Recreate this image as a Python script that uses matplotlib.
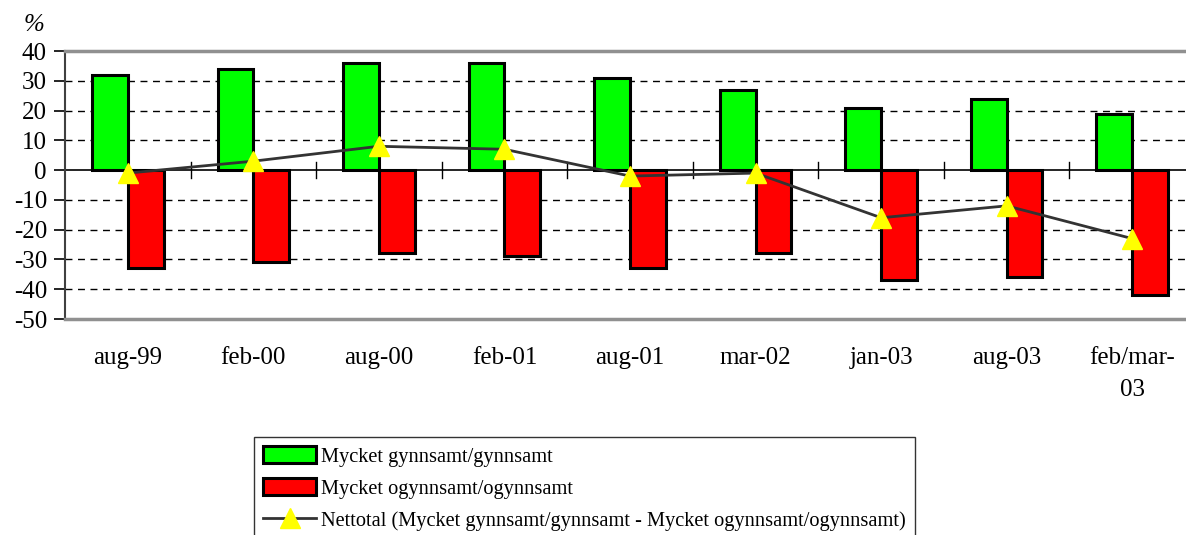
import numpy as np
import matplotlib.pyplot as plt

# Data
categories = ['aug-99', 'feb-00', 'aug-00', 'feb-01', 'aug-01', 'mar-02', 'jan-03', 'aug-03', 'feb/mar-\n03']
gynnsamt = [32, 34, 36, 36, 31, 27, 21, 24, 19]
ogynnsamt = [-33, -31, -28, -29, -33, -28, -37, -36, -42]
nettotal = [-1, 3, 8, 7, -2, -1, -16, -12, -23]

plt.rcParams['font.family'] = ['Liberation Serif', 'DejaVu Serif']
plt.rcParams['axes.unicode_minus'] = False

fig = plt.figure(figsize=(11.86, 5.35), dpi=100)
ax = fig.add_axes([65 / 1186, 1 - 319 / 535, 1130 / 1186, 268 / 535])

x = np.arange(len(categories))
w = 0.285

b1 = ax.bar(x - w / 2, gynnsamt, width=w, color='#00ff00', edgecolor='black', linewidth=2.2,
            label='Mycket gynnsamt/gynnsamt', zorder=3)
b2 = ax.bar(x + w / 2, ogynnsamt, width=w, color='#ff0000', edgecolor='black', linewidth=2.2,
            label='Mycket ogynnsamt/ogynnsamt', zorder=3)
ln, = ax.plot(x, nettotal, color='#333333', linewidth=2, marker='^', markersize=14,
              markerfacecolor='#ffff00', markeredgecolor='#ffff00', zorder=4,
              label='Nettotal (Mycket gynnsamt/gynnsamt - Mycket ogynnsamt/ogynnsamt)')

ax.set_xlim(-0.5, len(categories) - 0.5)
ax.set_ylim(-50, 40)
ax.set_yticks(range(-50, 41, 10))
ax.tick_params(axis='y', labelsize=18, length=8, width=1.2, direction='out', pad=5)

# dashed grid lines
for v in range(-40, 40, 10):
    if v != 0:
        ax.axhline(v, color='black', linestyle=(0, (5, 4)), linewidth=1, zorder=1)
ax.axhline(0, color='black', linewidth=1.2, zorder=2)

# category labels under the plot, tick marks on zero line
ax.set_xticks(x)
ax.set_xticklabels(categories, fontsize=18, linespacing=1.6)
ax.tick_params(axis='x', length=0, pad=20)
for b in np.arange(0.5, len(categories) - 0.5, 1):
    ax.plot([b, b], [-2.7, 2.7], color='black', linewidth=1, zorder=2)

for s in ['top', 'bottom']:
    ax.spines[s].set_color('#909090')
    ax.spines[s].set_linewidth(2.5)
ax.spines['right'].set_visible(False)
ax.spines['left'].set_color('#404040')
ax.spines['left'].set_linewidth(1.5)

fig.text(34 / 1186, 1 - 25 / 535, '%', fontsize=18, style='italic', ha='center', va='center')

leg = fig.legend([b1, b2, ln], [b1.get_label(), b2.get_label(), ln.get_label()],
                 loc='upper left', bbox_to_anchor=(254 / 1186, 1 - 437 / 535), fontsize=14.7,
                 frameon=True, fancybox=False, edgecolor='black', handlelength=2.6,
                 handleheight=0.87, handletextpad=0.25, labelspacing=0.58, borderpad=0.45,
                 borderaxespad=0)
leg.get_frame().set_linewidth(1)

fig.savefig('out.png', dpi=100)
